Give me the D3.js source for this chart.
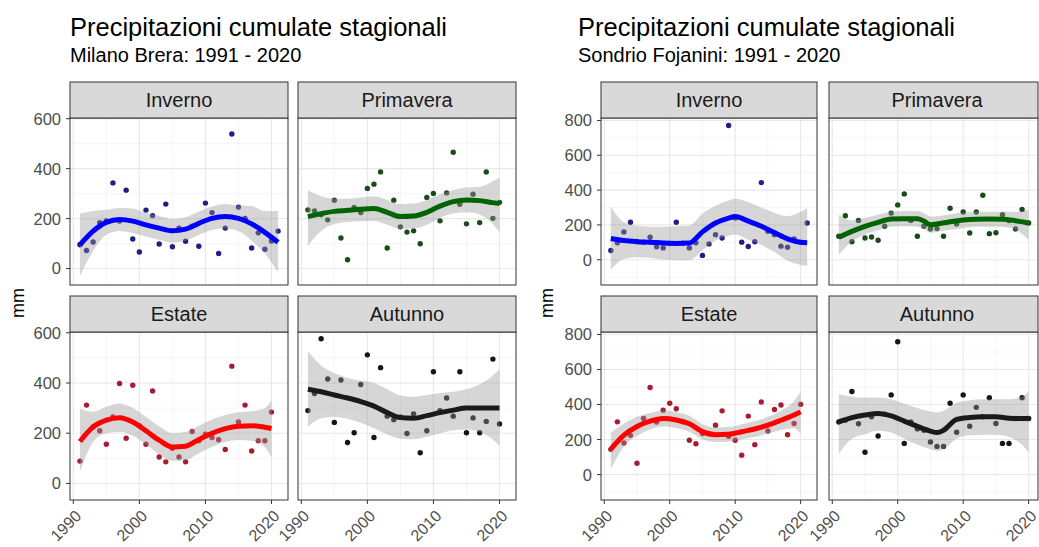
<!DOCTYPE html>
<html>
<head>
<meta charset="utf-8">
<script src="https://cdn.jsdelivr.net/npm/d3@7"></script>
<style>
body { margin: 0; background: #fff; }
text { font-family: "Liberation Sans", Arial, sans-serif; }
</style>
</head>
<body>
<svg id="chart" width="1039" height="547"></svg>
<script>
// anni (l'inverno arriva al 2021)
var years = [1991,1992,1993,1994,1995,1996,1997,1998,1999,2000,2001,2002,2003,2004,2005,
             2006,2007,2008,2009,2010,2011,2012,2013,2014,2015,2016,2017,2018,2019,2020];
var yearsWinter = [1991,1992,1993,1994,1995,1996,1997,1998,1999,2000,2001,2002,2003,2004,2005,
                   2006,2007,2008,2009,2010,2011,2012,2013,2014,2015,2016,2017,2018,2019,2020,2021];

var seasons = ["Inverno", "Primavera", "Estate", "Autunno"];
var xTicks = [1990, 2000, 2010, 2020];
var xMinor = [1995, 2005, 2015];

// ---- Milano Brera: precipitazioni stagionali (mm) ----
var milInverno = [95,72,106,184,191,343,190,314,118,66,234,212,98,258,87,162,109,170,89,262,224,60,162,539,246,201,82,143,77,110,150];
var milPrimavera = [235,231,215,195,274,122,35,245,224,321,338,387,82,274,167,146,151,99,285,301,191,303,466,257,179,298,184,387,201,265];
var milEstate = [89,312,225,210,156,265,398,180,391,230,156,368,105,86,140,105,86,207,170,196,183,174,135,467,245,312,129,170,170,284];
var milAutunno = [290,358,576,416,243,412,163,202,394,512,183,461,268,254,265,199,277,122,210,445,290,340,268,445,202,261,202,247,495,237];

// curve di tendenza (loess): anni, stima, banda inferiore e superiore
var milInvernoFitX = [1991,1993,1995,1997,1999,2001,2003,2005,2007,2009,2011,2013,2015,2017,2019,2021];
var milInvernoFit = [95,150,185,196,190,175,162,151,158,181,201,208,201,179,145,105];
var milInvernoLo = [-30,70,135,150,142,128,115,104,111,134,154,160,150,111,60,-15];
var milInvernoHi = [220,230,235,242,240,222,210,198,205,228,248,258,252,250,230,230];

var milPrimaveraFitX = [1991,1993,1995,1997,1999,2001,2003,2005,2007,2009,2011,2013,2015,2017,2019,2020];
var milPrimaveraFit = [208,220,229,233,237,240,225,208,210,225,250,268,275,272,264,260];
var milPrimaveraLo = [90,150,178,186,189,190,175,158,160,175,202,220,225,216,178,145];
var milPrimaveraHi = [314,290,280,280,285,290,275,258,260,275,298,315,325,328,350,365];

var milEstateFitX = [1991,1993,1995,1997,1999,2001,2003,2005,2007,2009,2011,2013,2015,2017,2019,2020];
var milEstateFit = [167,225,252,262,245,210,172,145,148,175,200,218,228,230,224,219];
var milEstateLo = [45,165,200,206,190,155,116,90,92,120,145,165,173,170,145,102];
var milEstateHi = [297,285,305,318,300,265,228,200,205,230,255,272,283,287,300,331];

var milAutunnoFitX = [1991,1993,1995,1997,1999,2001,2003,2005,2007,2009,2011,2013,2015,2017,2019,2020];
var milAutunnoFit = [375,365,352,340,326,308,282,262,260,270,282,292,300,300,300,300];
var milAutunnoLo = [225,260,265,258,242,220,195,178,176,186,200,212,215,205,175,150];
var milAutunnoHi = [526,470,440,420,410,400,375,350,345,352,360,365,375,395,430,455];

// ---- Sondrio Fojanini ----
var sonInverno = [53,97,160,215,105,100,129,74,68,93,215,95,68,97,25,91,144,125,771,240,101,76,103,443,163,144,78,72,120,100,211];
var sonPrimavera = [135,253,103,226,125,131,112,192,268,315,378,226,135,192,177,179,135,296,205,274,154,274,370,150,155,258,225,177,289,211];
var sonEstate = [144,301,180,224,65,320,497,300,368,407,376,301,196,176,234,234,282,364,219,196,111,334,171,414,249,372,397,228,292,401];
var sonAutunno = [300,310,474,290,128,330,220,345,455,758,178,301,261,253,186,161,161,407,242,455,276,384,330,439,292,178,178,320,439,320];

var sonInvernoFitX = [1991,1993,1995,1997,1999,2001,2003,2005,2007,2009,2010,2012,2014,2016,2018,2020,2021];
var sonInvernoFit = [122,110,104,101,96,94,96,160,211,239,248,222,192,156,120,100,97];
var sonInvernoLo = [-55,5,15,10,2,-3,-3,55,110,138,145,115,85,45,-5,-30,-36];
var sonInvernoHi = [306,215,195,190,190,192,195,265,310,340,350,330,300,270,250,275,296];

var sonPrimaveraFitX = [1991,1993,1995,1997,1999,2001,2003,2004,2005,2006,2008,2010,2012,2014,2016,2018,2020];
var sonPrimaveraFit = [129,163,192,215,234,236,236,222,201,205,218,228,233,234,233,224,211];
var sonPrimaveraLo = [30,105,145,170,190,192,190,176,155,160,172,183,190,190,188,172,115];
var sonPrimaveraHi = [258,225,240,258,276,280,280,268,248,250,262,270,275,276,276,275,287];

var sonEstateFitX = [1991,1993,1995,1997,1999,2001,2003,2005,2007,2009,2011,2013,2015,2017,2019,2020];
var sonEstateFit = [145,225,275,305,320,312,290,245,228,230,245,260,282,310,340,358];
var sonEstateLo = [30,160,220,258,275,266,244,202,186,188,202,215,234,255,265,234];
var sonEstateHi = [240,290,330,352,366,358,336,288,270,272,288,305,330,365,420,474];

var sonAutunnoFitX = [1991,1993,1995,1997,1999,2001,2003,2005,2006,2007,2009,2011,2013,2015,2017,2019,2020];
var sonAutunnoFit = [301,325,340,349,335,305,275,248,240,253,315,326,330,330,322,320,320];
var sonAutunnoLo = [119,205,230,250,240,205,170,145,135,145,205,225,228,228,215,170,128];
var sonAutunnoHi = [458,445,440,440,430,405,380,360,355,365,410,425,430,430,430,445,474];

var pointColors = ["#231d80", "#1d4a1d", "#a81c30", "#151515"];
var lineColors = ["#0000ff", "#006400", "#ff0000", "#1a1a1a"];

function panelsOf(vals, fits) {
    return seasons.map(function(s, i){
        return {season: s, years: i === 0 ? yearsWinter : years, vals: vals[i],
                fitX: fits[i][0], fit: fits[i][1], lo: fits[i][2], hi: fits[i][3]};
    });
}

var charts = [
    {
        title: "Precipitazioni cumulate stagionali",
        subtitle: "Milano Brera: 1991 - 2020",
        titleX: 70, mmX: 24,
        cols: [[70, 288], [298, 516]], maxRight: 1039,
        yDomain: [-66, 603], yTicks: [0, 200, 400, 600], yMinor: [100, 300, 500],
        panels: panelsOf([milInverno, milPrimavera, milEstate, milAutunno], [
            [milInvernoFitX, milInvernoFit, milInvernoLo, milInvernoHi],
            [milPrimaveraFitX, milPrimaveraFit, milPrimaveraLo, milPrimaveraHi],
            [milEstateFitX, milEstateFit, milEstateLo, milEstateHi],
            [milAutunnoFitX, milAutunnoFit, milAutunnoLo, milAutunnoHi]])
    },
    {
        title: "Precipitazioni cumulate stagionali",
        subtitle: "Sondrio Fojanini: 1991 - 2020",
        titleX: 578, mmX: 553,
        cols: [[601, 817], [829, 1045]], maxRight: 1038,
        yDomain: [-145, 814], yTicks: [0, 200, 400, 600, 800], yMinor: [-100, 100, 300, 500, 700],
        panels: panelsOf([sonInverno, sonPrimavera, sonEstate, sonAutunno], [
            [sonInvernoFitX, sonInvernoFit, sonInvernoLo, sonInvernoHi],
            [sonPrimaveraFitX, sonPrimaveraFit, sonPrimaveraLo, sonPrimaveraHi],
            [sonEstateFitX, sonEstateFit, sonEstateLo, sonEstateHi],
            [sonAutunnoFitX, sonAutunnoFit, sonAutunnoLo, sonAutunnoHi]])
    }
];

// righe: inizio strip, inizio pannello, fine pannello
var rows = [[82, 118, 285], [296, 332, 500]];
var xDomain = [1989.5, 2022.5];

var svg = d3.select("#chart");
var defs = svg.append("defs");

charts.forEach(function(c, ci){
    var g = svg.append("g");

    g.append("text")
        .attr("x", c.titleX).attr("y", 36)
        .attr("font-size", 25.5).attr("fill", "#000")
        .text(c.title);
    g.append("text")
        .attr("x", c.titleX).attr("y", 62)
        .attr("font-size", 20).attr("fill", "#000")
        .text(c.subtitle);

    g.append("text")
        .attr("transform", `translate(${c.mmX}, 303) rotate(-90)`)
        .attr("text-anchor", "middle")
        .attr("font-size", 18).attr("fill", "#000")
        .text("mm");

    c.panels.forEach(function(p, i){
        var col = i % 2, row = Math.floor(i / 2);
        var x0 = c.cols[col][0], x1 = c.cols[col][1];
        var xr = Math.min(x1, c.maxRight);
        var st = rows[row][0], pt = rows[row][1], pb = rows[row][2];

        var x = d3.scaleLinear().domain(xDomain).range([x0, x1]);
        var y = d3.scaleLinear().domain(c.yDomain).range([pb, pt]);

        var clipId = "clip" + ci + "_" + i;
        defs.append("clipPath").attr("id", clipId)
            .append("rect").attr("x", x0).attr("y", pt).attr("width", xr - x0).attr("height", pb - pt);

        var pg = g.append("g");
        pg.append("rect")
            .attr("x", x0).attr("y", pt).attr("width", xr - x0).attr("height", pb - pt)
            .attr("fill", "#fff");

        var inner = pg.append("g").attr("clip-path", `url(#${clipId})`);

        // griglia
        inner.append("g").selectAll("line").data(c.yMinor).join("line")
            .attr("x1", x0).attr("x2", xr)
            .attr("y1", d => y(d)).attr("y2", d => y(d))
            .attr("stroke", "#f2f2f2").attr("stroke-width", 0.8);
        inner.append("g").selectAll("line").data(xMinor).join("line")
            .attr("y1", pt).attr("y2", pb)
            .attr("x1", d => x(d)).attr("x2", d => x(d))
            .attr("stroke", "#f2f2f2").attr("stroke-width", 0.8);
        inner.append("g").selectAll("line").data(c.yTicks).join("line")
            .attr("x1", x0).attr("x2", xr)
            .attr("y1", d => y(d)).attr("y2", d => y(d))
            .attr("stroke", "#e8e8e8").attr("stroke-width", 1.1);
        inner.append("g").selectAll("line").data(xTicks).join("line")
            .attr("y1", pt).attr("y2", pb)
            .attr("x1", d => x(d)).attr("x2", d => x(d))
            .attr("stroke", "#e8e8e8").attr("stroke-width", 1.1);

        // punti
        inner.append("g").selectAll("circle")
            .data(p.vals.map((v, k) => ({year: p.years[k], v: v})))
            .join("circle")
            .attr("cx", d => x(d.year)).attr("cy", d => y(d.v))
            .attr("r", 2.7)
            .attr("fill", pointColors[i]);

        var fitData = p.fitX.map((yr, k) => ({year: yr, fit: p.fit[k], lo: p.lo[k], hi: p.hi[k]}));

        var area = d3.area()
            .x(d => x(d.year)).y0(d => y(d.lo)).y1(d => y(d.hi))
            .curve(d3.curveMonotoneX);
        inner.append("path")
            .attr("d", area(fitData))
            .attr("fill", "#999999").attr("fill-opacity", 0.4);

        var line = d3.line()
            .x(d => x(d.year)).y(d => y(d.fit))
            .curve(d3.curveMonotoneX);
        inner.append("path")
            .attr("d", line(fitData))
            .attr("fill", "none")
            .attr("stroke", lineColors[i]).attr("stroke-width", 5);

        // bordo pannello
        pg.append("rect")
            .attr("x", x0).attr("y", pt).attr("width", xr - x0).attr("height", pb - pt)
            .attr("fill", "none").attr("stroke", "#333").attr("stroke-width", 1);

        // strip
        pg.append("rect")
            .attr("x", x0).attr("y", st).attr("width", xr - x0).attr("height", pt - st)
            .attr("fill", "#d9d9d9").attr("stroke", "#333").attr("stroke-width", 1);
        pg.append("text")
            .attr("x", (x0 + x1) / 2).attr("y", (st + pt) / 2)
            .attr("dy", "0.36em")
            .attr("text-anchor", "middle")
            .attr("font-size", 20).attr("fill", "#1a1a1a")
            .text(p.season);

        // asse y (solo colonna di sinistra)
        if (col === 0) {
            var ya = pg.append("g");
            ya.selectAll("line").data(c.yTicks).join("line")
                .attr("x1", x0 - 4).attr("x2", x0)
                .attr("y1", d => y(d)).attr("y2", d => y(d))
                .attr("stroke", "#333");
            ya.selectAll("text").data(c.yTicks).join("text")
                .attr("x", x0 - 9).attr("y", d => y(d))
                .attr("dy", "0.36em")
                .attr("text-anchor", "end")
                .attr("font-size", 16.5).attr("fill", "#4d4d4d")
                .text(d => d);
        }

        // asse x (solo riga in basso)
        if (row === 1) {
            var xa = pg.append("g");
            xa.selectAll("line").data(xTicks).join("line")
                .attr("x1", d => x(d)).attr("x2", d => x(d))
                .attr("y1", pb).attr("y2", pb + 4)
                .attr("stroke", "#333");
            xa.selectAll("text").data(xTicks).join("text")
                .attr("transform", d => `translate(${x(d) + 9}, ${pb + 17}) rotate(-45)`)
                .attr("text-anchor", "end")
                .attr("font-size", 16).attr("fill", "#4d4d4d")
                .text(d => d);
        }
    });
});
</script>
</body>
</html>
